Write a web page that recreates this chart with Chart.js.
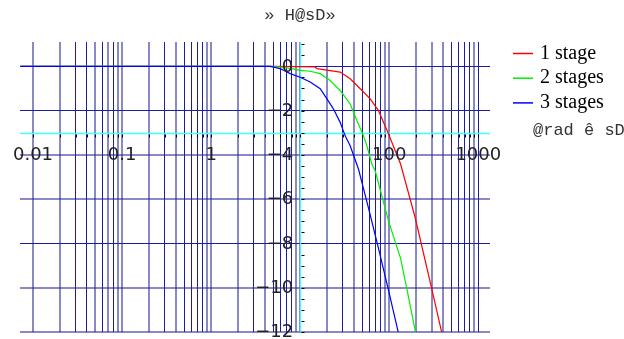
<!DOCTYPE html>
<html>
<head>
<meta charset="utf-8">
<script src="https://cdn.jsdelivr.net/npm/chart.js@4.4.1/dist/chart.umd.min.js"></script>
<style>
  html, body { margin: 0; padding: 0; background: #fff; }
</style>
</head>
<body>
<canvas id="myChart" width="624" height="339"></canvas>
<script>
const title_text = "\u00bb H@sD\u00bb";
const axis_label = "@rad \u00ea sD";

const series_labels = ["1 stage", "2 stages", "3 stages"];
const series_colors = ["#ff0000", "#00f000", "#0000ff"];

// frequency (rad/s) and gain (dB)
const w_1 = [0.0072, 5, 10, 14.7, 15.4, 20.8, 28.1, 36.4, 47.2, 61.2, 75.6, 94.8, 134, 196, 302, 390];
const db_1 = [0, 0, -0.01, -0.03, -0.1, -0.18, -0.26, -0.56, -1.01, -1.47, -2.0, -2.91, -4.41, -6.85, -10.1, -12.05];

const w_2 = [0.0072, 4.6, 6, 8, 10, 12.95, 16.8, 21.7, 28.1, 36.4, 43.3, 51.4, 56.2, 63.8, 69.6, 98.4, 134, 158.5, 198];
const db_2 = [0, 0, -0.03, -0.1, -0.18, -0.22, -0.33, -0.64, -1.09, -1.7, -2.45, -3.14, -3.6, -4.42, -4.73, -7.0, -8.67, -10.1, -12.05];

const w_3 = [0.0072, 4.6, 5.96, 7.72, 10, 12.95, 16.78, 19.95, 23.6, 28.1, 32, 36.4, 45.2, 58.4, 75.6, 97.9, 126.8];
const db_3 = [0, 0, -0.1, -0.33, -0.49, -0.71, -1.01, -1.47, -1.92, -2.53, -3.14, -3.59, -4.65, -6.39, -8.21, -10.1, -12.05];

// axes
const x_decades = [0.01, 0.1, 1, 10, 100];
const x_tick_values = [0.01, 0.1, 1, 100, 1000];
const x_tick_labels = ["0.01", "0.1", "1", "100", "1000"];
const y_tick_values = [0, -2, -4, -6, -8, -10, -12];
const y_tick_labels = ["0", "\u22122", "\u22124", "\u22126", "\u22128", "\u221210", "\u221212"];
const x_min = 0.00714, x_max = 1353;
const y_min = -12, y_max = 1.1;
const axes_origin = { x: 10, y: -3 };

let x_grid = [];
for (let i = 0; i < x_decades.length; i++) {
  for (let k = 1; k <= 9; k++) {
    x_grid.push(Math.round(x_decades[i] * k * 1e6) / 1e6);
  }
}
x_grid.push(1000);

let y_minor = [];
for (let v = -12; v <= 1; v += 0.5) y_minor.push(v);

function toPoints(xs, ys) {
  let pts = [];
  for (let i = 0; i < xs.length; i++) pts.push({ x: xs[i], y: ys[i] });
  return pts;
}

const all_w = [w_1, w_2, w_3];
const all_db = [db_1, db_2, db_3];
let dataset_list = [];
for (let i = 0; i < series_labels.length; i++) {
  dataset_list.push({
    label: series_labels[i],
    data: toPoints(all_w[i], all_db[i]),
    borderColor: series_colors[i],
    borderWidth: 1.2,
    pointRadius: 0,
    fill: false,
    tension: 0,
    order: series_labels.length - i,
  });
}

// grid lines that fall between pixels come out as soft 2px lines, as in the picture
function gridFrac(c) {
  if (!c.tick) return 0.5;
  const px = c.scale.getPixelForValue(c.tick.value);
  return px - Math.floor(px);
}
function gridColor(c) {
  const f = gridFrac(c);
  return f > 0.3 && f < 0.7 ? "#1c1c9c" : "rgba(40, 40, 150, 0.55)";
}
function gridWidth(c) {
  const f = gridFrac(c);
  return f > 0.3 && f < 0.7 ? 1 : 2;
}
const axisColor = "#40ffff";

const decorations = {
  id: "decorations",
  beforeDatasetsDraw(chart) {
    const ctx = chart.ctx;
    const xs = chart.scales.x, ys = chart.scales.y;
    const area = chart.chartArea;
    const ax = Math.round(xs.getPixelForValue(axes_origin.x)) + 0.5;
    const ay = Math.round(ys.getPixelForValue(axes_origin.y)) + 0.5;
    ctx.save();
    ctx.lineWidth = 1.3;
    ctx.strokeStyle = axisColor;
    ctx.beginPath();
    ctx.moveTo(area.left, ay);
    ctx.lineTo(area.right, ay);
    ctx.moveTo(ax, area.top);
    ctx.lineTo(ax, area.bottom);
    ctx.stroke();
    // tick marks
    ctx.lineWidth = 1;
    ctx.strokeStyle = "#000";
    ctx.beginPath();
    for (const v of x_grid) {
      const px = Math.round(xs.getPixelForValue(v)) + 0.5;
      ctx.moveTo(px, ay + 1);
      ctx.lineTo(px, ay + 4);
    }
    for (const v of y_minor) {
      const py = Math.round(ys.getPixelForValue(v)) + 0.5;
      ctx.moveTo(ax + 1, py);
      ctx.lineTo(ax + 4, py);
    }
    ctx.stroke();
    ctx.restore();
  },
  afterDraw(chart) {
    const ctx = chart.ctx;
    const xs = chart.scales.x, ys = chart.scales.y;
    const ax = xs.getPixelForValue(axes_origin.x);
    const ay = ys.getPixelForValue(axes_origin.y);
    ctx.save();
    ctx.fillStyle = "#222";
    ctx.font = "18px 'DejaVu Sans'";
    ctx.textBaseline = "middle";
    ctx.textAlign = "center";
    for (let i = 0; i < x_tick_values.length; i++) {
      ctx.fillText(x_tick_labels[i], xs.getPixelForValue(x_tick_values[i]), ay + 23);
    }
    ctx.textAlign = "right";
    for (let i = 0; i < y_tick_values.length; i++) {
      ctx.fillText(y_tick_labels[i], ax - 7, ys.getPixelForValue(y_tick_values[i]) + 0.5);
    }
    // title and axis label
    ctx.font = "17px 'Liberation Mono'";
    ctx.fillStyle = "#333";
    ctx.textAlign = "center";
    ctx.fillText(title_text, 300, 15);
    ctx.textAlign = "left";
    ctx.fillText(axis_label, 533, 130);
    // legend
    ctx.font = "20px 'Liberation Serif'";
    ctx.fillStyle = "#000";
    for (let i = 0; i < series_labels.length; i++) {
      const ly = 53.5 + i * 24.7;
      ctx.strokeStyle = series_colors[i];
      ctx.lineWidth = 1.5;
      ctx.beginPath();
      ctx.moveTo(513, ly);
      ctx.lineTo(533, ly);
      ctx.stroke();
      ctx.fillText(series_labels[i], 540, ly);
    }
    ctx.restore();
  },
};

const ctx = document.getElementById("myChart").getContext("2d");
var myChart = new Chart(ctx, {
  type: "line",
  data: { datasets: dataset_list },
  options: {
    responsive: false,
    animation: false,
    devicePixelRatio: 1,
    layout: { padding: { left: 20, right: 134, top: 42, bottom: 7 } },
    plugins: {
      legend: { display: false },
      title: { display: false },
      tooltip: { enabled: false },
    },
    scales: {
      x: {
        type: "logarithmic",
        min: x_min,
        max: x_max,
        afterBuildTicks: (s) => { s.ticks = x_grid.map((v) => ({ value: v })); },
        ticks: { display: false },
        grid: { color: gridColor, lineWidth: gridWidth, drawTicks: false },
        border: { display: false },
        afterFit: (s) => { s.height = 0; },
      },
      y: {
        type: "linear",
        min: y_min,
        max: y_max,
        afterBuildTicks: (s) => { s.ticks = y_tick_values.map((v) => ({ value: v })); },
        ticks: { display: false },
        grid: { color: gridColor, lineWidth: gridWidth, drawTicks: false },
        border: { display: false },
        afterFit: (s) => { s.width = 0; },
      },
    },
  },
  plugins: [decorations],
});
</script>
</body>
</html>
